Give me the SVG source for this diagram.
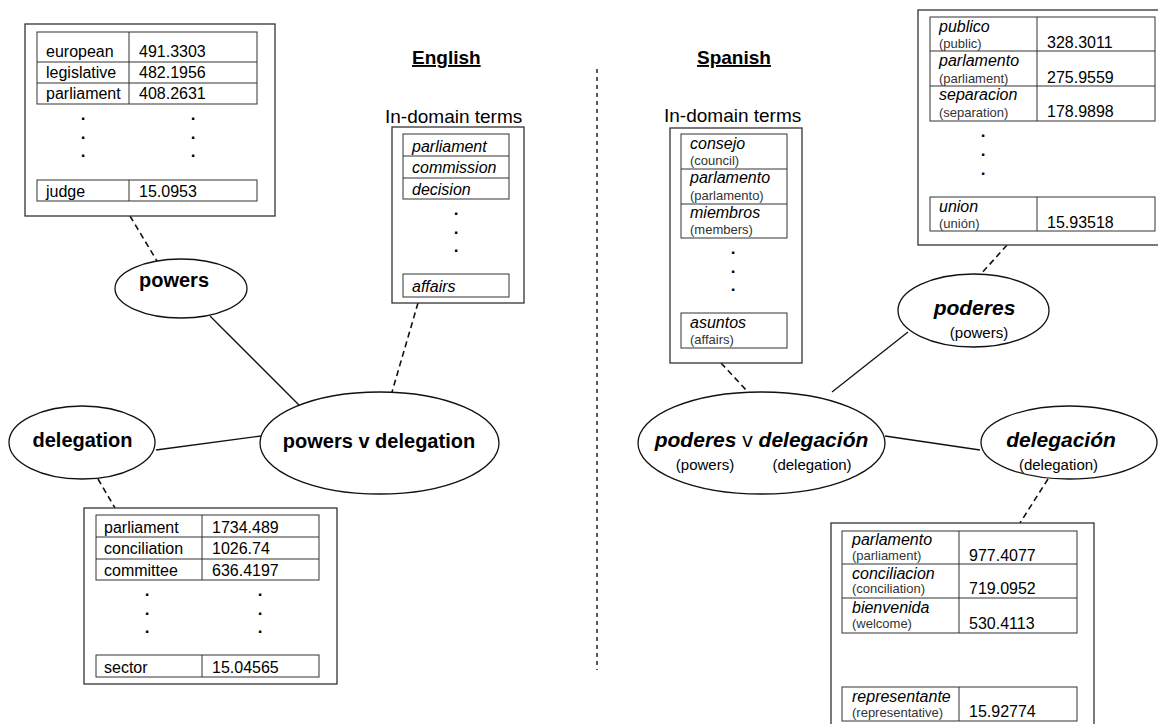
<svg xmlns="http://www.w3.org/2000/svg" width="1158" height="724" viewBox="0 0 1158 724">
<style>
  text { font-family: "Liberation Sans", Arial, sans-serif; fill: #000; }
  .box { fill: #fff; stroke: #333; stroke-width: 1.3; }
  .tbl { fill: none; stroke: #333; stroke-width: 1; }
  .t { font-size: 16px; }
  .it { font-size: 16px; font-style: italic; }
  .sm { font-size: 13px; fill: #333; }
  .dot { font-size: 17px; font-weight: bold; text-anchor: middle; }
  .node { fill: #fff; stroke: #111; stroke-width: 1.3; }
  .lbl { font-size: 20px; font-weight: bold; text-anchor: middle; }
  .lbli { font-size: 21px; font-weight: bold; font-style: italic; text-anchor: middle; }
  .sub { font-size: 15px; text-anchor: middle; }
  .title { font-size: 19px; font-weight: bold; text-decoration: underline; }
  .head { font-size: 19px; }
  .solid { stroke: #111; stroke-width: 1.3; fill: none; }
  .dash { stroke: #111; stroke-width: 1.6; fill: none; stroke-dasharray: 6 4; }
  .divider { stroke: #222; stroke-width: 1.5; fill: none; stroke-dasharray: 4 4; }
</style>

<rect width="1158" height="724" fill="#fff"/>

<g id="connectors">
  <line class="solid" x1="210" y1="316" x2="299" y2="405"/>
  <line class="solid" x1="156" y1="450" x2="261" y2="436"/>
  <line class="solid" x1="832" y1="392" x2="908" y2="332"/>
  <line class="solid" x1="885" y1="436" x2="980" y2="450"/>
  <line class="dash" x1="130" y1="216" x2="157" y2="261"/>
  <line class="dash" x1="418" y1="303" x2="392" y2="392"/>
  <line class="dash" x1="98" y1="479" x2="115" y2="508"/>
  <line class="dash" x1="721" y1="363" x2="748" y2="392"/>
  <line class="dash" x1="1007" y1="245" x2="981" y2="274"/>
  <line class="dash" x1="1048" y1="479" x2="1020" y2="523"/>
  <line class="divider" x1="597" y1="69" x2="597" y2="670"/>
</g>

<g id="titles">
  <text class="title" x="412" y="64">English</text>
  <text class="title" x="697" y="64">Spanish</text>
</g>

<g id="table-powers">
  <rect class="box" x="25" y="24" width="250" height="192"/>
  <rect class="tbl" x="37" y="32" width="220" height="72"/>
  <line class="tbl" x1="37" y1="62" x2="257" y2="62"/>
  <line class="tbl" x1="37" y1="83" x2="257" y2="83"/>
  <line class="tbl" x1="129" y1="32" x2="129" y2="104"/>
  <rect class="tbl" x="37" y="180" width="220" height="21"/>
  <line class="tbl" x1="129" y1="180" x2="129" y2="201"/>
  <text class="t" x="46" y="57">european</text>
  <text class="t" x="139" y="57">491.3303</text>
  <text class="t" x="46" y="78">legislative</text>
  <text class="t" x="139" y="78">482.1956</text>
  <text class="t" x="46" y="99">parliament</text>
  <text class="t" x="139" y="99">408.2631</text>
  <text class="dot" x="83" y="120">.</text>
  <text class="dot" x="83" y="139">.</text>
  <text class="dot" x="83" y="157">.</text>
  <text class="dot" x="193" y="120">.</text>
  <text class="dot" x="193" y="139">.</text>
  <text class="dot" x="193" y="157">.</text>
  <text class="t" x="46" y="197">judge</text>
  <text class="t" x="139" y="197">15.0953</text>
</g>

<g id="terms-english">
  <text class="head" x="385" y="123">In-domain terms</text>
  <rect class="box" x="392" y="127" width="132" height="176"/>
  <rect class="tbl" x="403" y="134" width="106" height="65"/>
  <line class="tbl" x1="403" y1="156" x2="509" y2="156"/>
  <line class="tbl" x1="403" y1="178" x2="509" y2="178"/>
  <text class="it" x="412" y="152">parliament</text>
  <text class="it" x="412" y="173">commission</text>
  <text class="it" x="412" y="195">decision</text>
  <text class="dot" x="456" y="215">.</text>
  <text class="dot" x="456" y="234">.</text>
  <text class="dot" x="456" y="252">.</text>
  <rect class="tbl" x="403" y="274" width="106" height="23"/>
  <text class="it" x="412" y="292">affairs</text>
</g>

<g id="terms-spanish">
  <text class="head" x="664" y="122">In-domain terms</text>
  <rect class="box" x="670" y="128" width="132" height="235"/>
  <rect class="tbl" x="681" y="134" width="106" height="104"/>
  <line class="tbl" x1="681" y1="169" x2="787" y2="169"/>
  <line class="tbl" x1="681" y1="204" x2="787" y2="204"/>
  <text class="it" x="690" y="149">consejo</text>
  <text class="sm" x="690" y="165">(council)</text>
  <text class="it" x="690" y="183">parlamento</text>
  <text class="sm" x="690" y="200">(parlamento)</text>
  <text class="it" x="690" y="218">miembros</text>
  <text class="sm" x="690" y="234">(members)</text>
  <text class="dot" x="733" y="254">.</text>
  <text class="dot" x="733" y="273">.</text>
  <text class="dot" x="733" y="291">.</text>
  <rect class="tbl" x="681" y="313" width="106" height="35"/>
  <text class="it" x="690" y="328">asuntos</text>
  <text class="sm" x="690" y="344">(affairs)</text>
</g>

<g id="table-poderes">
  <rect class="box" x="918" y="10" width="260" height="235"/>
  <rect class="tbl" x="930" y="17" width="225" height="104"/>
  <line class="tbl" x1="930" y1="51" x2="1155" y2="51"/>
  <line class="tbl" x1="930" y1="86" x2="1155" y2="86"/>
  <line class="tbl" x1="1037" y1="17" x2="1037" y2="121"/>
  <text class="it" x="939" y="32">publico</text>
  <text class="sm" x="939" y="48">(public)</text>
  <text class="t" x="1047" y="48">328.3011</text>
  <text class="it" x="939" y="66">parlamento</text>
  <text class="sm" x="939" y="83">(parliament)</text>
  <text class="t" x="1047" y="83">275.9559</text>
  <text class="it" x="939" y="100">separacion</text>
  <text class="sm" x="939" y="117">(separation)</text>
  <text class="t" x="1047" y="117">178.9898</text>
  <text class="dot" x="983" y="137">.</text>
  <text class="dot" x="983" y="156">.</text>
  <text class="dot" x="983" y="175">.</text>
  <rect class="tbl" x="930" y="197" width="225" height="34"/>
  <line class="tbl" x1="1037" y1="197" x2="1037" y2="231"/>
  <text class="it" x="939" y="212">union</text>
  <text class="sm" x="939" y="228">(unión)</text>
  <text class="t" x="1047" y="228">15.93518</text>
</g>

<g id="table-delegation">
  <rect class="box" x="84" y="508" width="253" height="176"/>
  <rect class="tbl" x="96" y="515" width="223" height="65"/>
  <line class="tbl" x1="96" y1="537" x2="319" y2="537"/>
  <line class="tbl" x1="96" y1="559" x2="319" y2="559"/>
  <line class="tbl" x1="202" y1="515" x2="202" y2="580"/>
  <text class="t" x="104" y="533">parliament</text>
  <text class="t" x="212" y="533">1734.489</text>
  <text class="t" x="104" y="554">conciliation</text>
  <text class="t" x="212" y="554">1026.74</text>
  <text class="t" x="104" y="576">committee</text>
  <text class="t" x="212" y="576">636.4197</text>
  <text class="dot" x="147" y="596">.</text>
  <text class="dot" x="147" y="615">.</text>
  <text class="dot" x="147" y="633">.</text>
  <text class="dot" x="260" y="596">.</text>
  <text class="dot" x="260" y="615">.</text>
  <text class="dot" x="260" y="633">.</text>
  <rect class="tbl" x="96" y="655" width="223" height="22"/>
  <line class="tbl" x1="202" y1="655" x2="202" y2="677"/>
  <text class="t" x="104" y="673">sector</text>
  <text class="t" x="212" y="673">15.04565</text>
</g>

<g id="table-delegacion">
  <rect class="box" x="831" y="523" width="263" height="210"/>
  <rect class="tbl" x="842" y="531" width="235" height="102"/>
  <line class="tbl" x1="842" y1="564" x2="1077" y2="564"/>
  <line class="tbl" x1="842" y1="598" x2="1077" y2="598"/>
  <line class="tbl" x1="959" y1="531" x2="959" y2="633"/>
  <text class="it" x="852" y="545">parlamento</text>
  <text class="sm" x="852" y="560">(parliament)</text>
  <text class="t" x="969" y="561">977.4077</text>
  <text class="it" x="852" y="579">conciliacion</text>
  <text class="sm" x="852" y="593">(conciliation)</text>
  <text class="t" x="969" y="594">719.0952</text>
  <text class="it" x="852" y="613">bienvenida</text>
  <text class="sm" x="852" y="628">(welcome)</text>
  <text class="t" x="969" y="629">530.4113</text>
  <rect class="tbl" x="842" y="687" width="235" height="34"/>
  <line class="tbl" x1="959" y1="687" x2="959" y2="721"/>
  <text class="it" x="852" y="702">representante</text>
  <text class="sm" x="852" y="717">(representative)</text>
  <text class="t" x="969" y="717">15.92774</text>
</g>

<g id="node-powers">
  <ellipse class="node" cx="181" cy="288.5" rx="66" ry="29.5"/>
  <text class="lbl" x="174" y="287">powers</text>
</g>

<g id="node-delegation">
  <ellipse class="node" cx="82" cy="442.5" rx="73" ry="36.5"/>
  <text class="lbl" x="82.5" y="447">delegation</text>
</g>

<g id="node-powers-v-delegation">
  <ellipse class="node" cx="379.5" cy="443" rx="119.5" ry="51"/>
  <text class="lbl" x="379" y="448">powers v delegation</text>
</g>

<g id="node-poderes">
  <ellipse class="node" cx="973.5" cy="310.5" rx="75.5" ry="36.5"/>
  <text class="lbli" x="974.5" y="315">poderes</text>
  <text class="sub" x="979" y="338">(powers)</text>
</g>

<g id="node-poderes-v-delegacion">
  <ellipse class="node" cx="761.5" cy="443" rx="123.5" ry="51"/>
  <text class="lbli" x="761.5" y="447">poderes <tspan font-weight="normal" font-style="normal">v</tspan> delegación</text>
  <text class="sub" x="705" y="470">(powers)</text>
  <text class="sub" x="812" y="470">(delegation)</text>
</g>

<g id="node-delegacion">
  <ellipse class="node" cx="1069" cy="442.5" rx="88" ry="36.5"/>
  <text class="lbli" x="1061" y="447">delegación</text>
  <text class="sub" x="1058.5" y="470">(delegation)</text>
</g>
</svg>
